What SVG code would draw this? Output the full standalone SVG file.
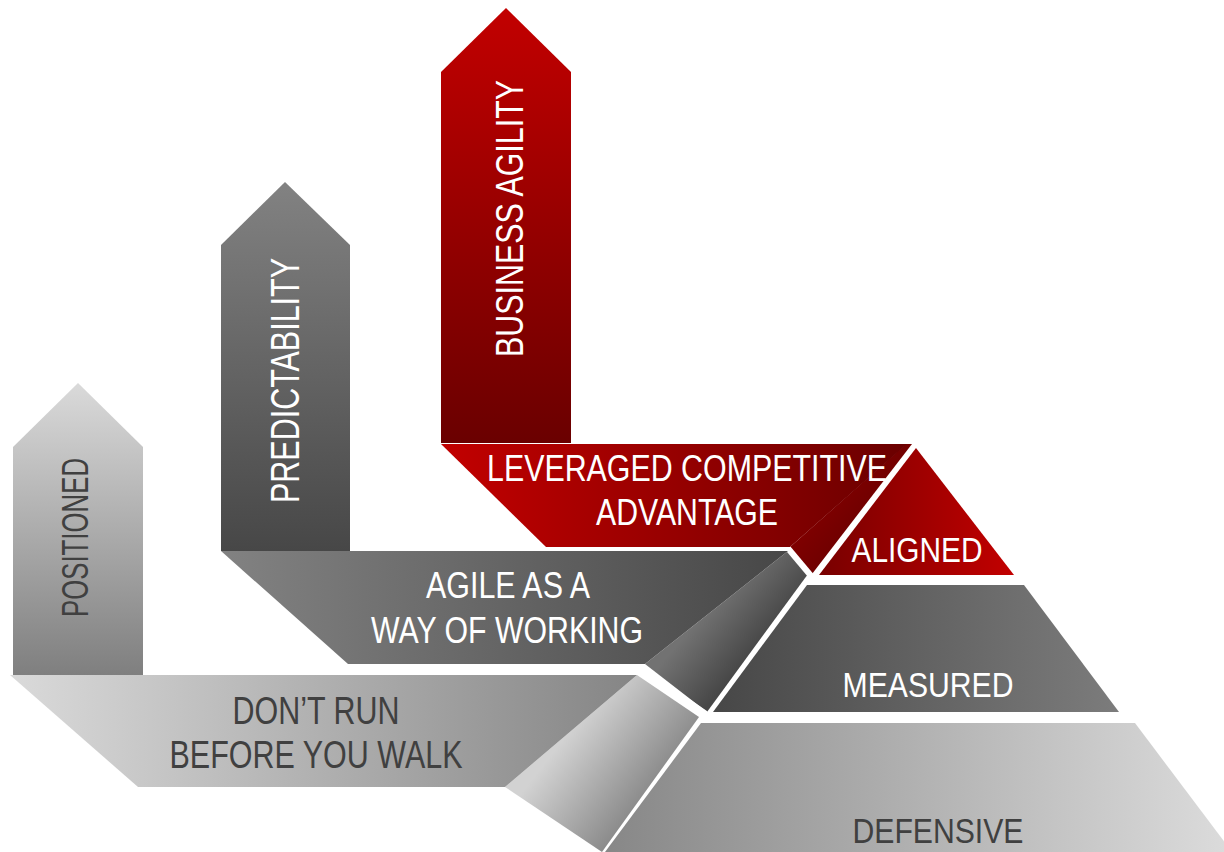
<svg xmlns="http://www.w3.org/2000/svg" width="1224" height="852" viewBox="0 0 1224 852">
<defs>
<linearGradient id="gRedV" x1="0" y1="0" x2="0" y2="1"><stop offset="0" stop-color="#c20000"/><stop offset="1" stop-color="#6a0000"/></linearGradient>
<linearGradient id="gRedH" x1="0" y1="0" x2="1" y2="0"><stop offset="0" stop-color="#c20000"/><stop offset="1" stop-color="#6a0000"/></linearGradient>
<linearGradient id="gAligned" x1="0" y1="0" x2="1" y2="0"><stop offset="0" stop-color="#780000"/><stop offset="1" stop-color="#c20000"/></linearGradient>
<linearGradient id="gGrayV" x1="0" y1="0" x2="0" y2="1"><stop offset="0" stop-color="#828282"/><stop offset="1" stop-color="#474747"/></linearGradient>
<linearGradient id="gGrayH" x1="0" y1="0" x2="1" y2="0"><stop offset="0" stop-color="#828282"/><stop offset="1" stop-color="#474747"/></linearGradient>
<linearGradient id="gMeasured" x1="0" y1="0" x2="1" y2="0"><stop offset="0" stop-color="#474747"/><stop offset="1" stop-color="#7c7c7c"/></linearGradient>
<linearGradient id="gLightV" x1="0" y1="0" x2="0" y2="1"><stop offset="0" stop-color="#dadada"/><stop offset="1" stop-color="#7f7f7f"/></linearGradient>
<linearGradient id="gLightH" x1="0" y1="0" x2="1" y2="0"><stop offset="0" stop-color="#dadada"/><stop offset="1" stop-color="#858585"/></linearGradient>
<linearGradient id="gDefensive" x1="0" y1="0" x2="1" y2="0"><stop offset="0" stop-color="#878787"/><stop offset="1" stop-color="#dcdcdc"/></linearGradient>
<linearGradient id="gSlabLight" gradientUnits="userSpaceOnUse" x1="572" y1="728" x2="652" y2="790"><stop offset="0" stop-color="#d2d2d2"/><stop offset="1" stop-color="#8a8a8a"/></linearGradient>
<linearGradient id="gSlabGray" gradientUnits="userSpaceOnUse" x1="712" y1="604" x2="760" y2="645"><stop offset="0" stop-color="#727272"/><stop offset="1" stop-color="#474747"/></linearGradient>
<linearGradient id="gSlabRed" gradientUnits="userSpaceOnUse" x1="840" y1="490" x2="870" y2="515"><stop offset="0" stop-color="#7e0000"/><stop offset="1" stop-color="#6e0000"/></linearGradient>
</defs>
<style>
text{font-family:"Liberation Sans",Arial,sans-serif;text-anchor:middle}
.w{fill:#ffffff}
.d{fill:#404040}
.sep{stroke:#ffffff;stroke-width:6;fill:none;stroke-linecap:butt}
</style>
<rect width="1224" height="852" fill="#ffffff"/>

<g id="arrow-positioned">
<path d="M13,675 L13,447 L78,383 L143,447 L143,675 Z" fill="url(#gLightV)"/>
<text class="d" font-size="37" transform="translate(88,537.5) rotate(-90)" textLength="159" lengthAdjust="spacingAndGlyphs">POSITIONED</text>
</g>
<g id="arrow-predictability">
<path d="M221,551 L221,245 L285,182 L350,245 L350,551 Z" fill="url(#gGrayV)"/>
<text class="w" font-size="40" transform="translate(299,380.5) rotate(-90)" textLength="245" lengthAdjust="spacingAndGlyphs">PREDICTABILITY</text>
</g>
<g id="arrow-business-agility">
<path d="M441,443 L441,72 L506,8 L571,72 L571,443 Z" fill="url(#gRedV)"/>
<text class="w" font-size="38" transform="translate(523,218.5) rotate(-90)" textLength="277" lengthAdjust="spacingAndGlyphs">BUSINESS AGILITY</text>
</g>

<g id="connectors">
<path d="M906,444 L912,444 L812,574 L790,547 Z" fill="url(#gSlabRed)"/>
<path d="M788,551 L808,574 L707,712 L645,664 Z" fill="url(#gSlabGray)"/>
<path d="M637,675 L699,717 L602,852 L505,787 Z" fill="url(#gSlabLight)"/>
<path class="sep" d="M786,546 L812,577"/>
<path class="sep" d="M636,666 L706,714"/>
</g>

<g id="layer-aligned">
<path d="M916,448 L1014,575 L819,575 Z" fill="url(#gAligned)"/>
<text class="w" font-size="35" x="917" y="562" textLength="131" lengthAdjust="spacingAndGlyphs">ALIGNED</text>
</g>
<g id="layer-measured">
<path d="M807,585 L1024,585 L1119,712 L713,712 Z" fill="url(#gMeasured)"/>
<text class="w" font-size="35" x="928" y="697" textLength="171" lengthAdjust="spacingAndGlyphs">MEASURED</text>
</g>
<g id="layer-defensive">
<path d="M701,723 L1135,723 L1232,852 L605,852 Z" fill="url(#gDefensive)"/>
<text class="d" font-size="35" x="938" y="843" textLength="171" lengthAdjust="spacingAndGlyphs">DEFENSIVE</text>
</g>

<g id="band-leveraged">
<path d="M441,444 L907,444 L790,547 L546,547 Z" fill="url(#gRedH)"/>
<text class="w" font-size="37" x="687" y="481" textLength="400" lengthAdjust="spacingAndGlyphs">LEVERAGED COMPETITIVE</text>
<text class="w" font-size="37" x="687" y="525" textLength="182" lengthAdjust="spacingAndGlyphs">ADVANTAGE</text>
</g>
<g id="band-agile">
<path d="M221,551 L788,551 L645,664 L348,664 Z" fill="url(#gGrayH)"/>
<text class="w" font-size="36" x="508" y="598" textLength="164" lengthAdjust="spacingAndGlyphs">AGILE AS A</text>
<text class="w" font-size="36" x="507" y="643" textLength="272" lengthAdjust="spacingAndGlyphs">WAY OF WORKING</text>
</g>
<g id="band-dont-run">
<path d="M10,675 L637,675 L505,787 L138,787 Z" fill="url(#gLightH)"/>
<text class="d" font-size="38" x="316" y="724" textLength="167" lengthAdjust="spacingAndGlyphs">DON’T RUN</text>
<text class="d" font-size="38" x="316" y="768" textLength="293" lengthAdjust="spacingAndGlyphs">BEFORE YOU WALK</text>
</g>
</svg>
